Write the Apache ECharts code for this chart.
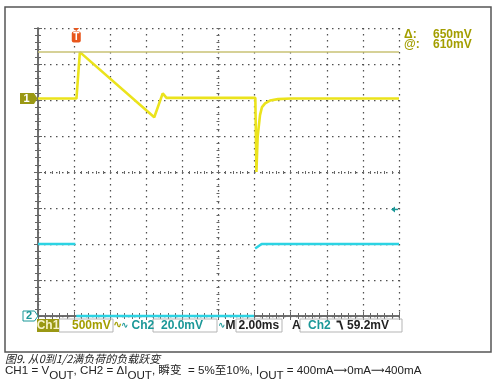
<!DOCTYPE html>
<html>
<head>
<meta charset="utf-8">
<script src="https://cdn.jsdelivr.net/npm/echarts@6/dist/echarts.min.js"></script>
<style>
html,body{margin:0;padding:0;background:#fff;}
#c{width:500px;height:389px;}
</style>
</head>
<body>
<div id="c"></div>
<script>
// ---- data ----
// time axis: 2.00 ms/div, 10 divisions
const timeMin = 0, timeMax = 20, timeDiv = 2;
// CH1 (VOUT, 500 mV/div) relative to channel ground marker
const ch1Time = [0, 2.13, 2.32, 6.44, 6.91, 7.12, 12.04, 12.1, 12.17, 12.3, 12.41, 12.58, 12.85, 13.3, 14.0, 20];
const ch1mV   = [0, 0, 645, -260, 72, 10, 10, -1020, -530, -230, -118, -67, -28, -8, 0, 0];
// CH2 (delta IOUT, 20.0 mV/div); null = undrawn fast edge (no samples on screen)
const ch2Time = [0, 2.07, 2.1, 2.12, 11.97, 12.0, 12.03, 12.1, 12.39, 20];
const ch2mV   = [40, 40, null, 0, 0, null, 37.5, 37.8, 40, 40];
const ch1Scale = 500, ch2Scale = 20, divisionsY = 8;
const ch1GroundDiv = 6.04;   // ch1 ground position, divisions from bottom
const ch2GroundDiv = 0;
const cursorDelta = 650, cursorAt = 610;
const triggerTime = 2.12, triggerLevel = 59.2;
const loadSteps = ['400mA', '0mA', '400mA'];

const olive = '#a39e00', teal = '#1b9898', frameCol = '#666';
const chart = echarts.init(document.getElementById('c'));

function gridAxis(pos, extra) {
  return Object.assign({
    type: 'value', position: pos,
    axisLine: { show: true, lineStyle: { color: frameCol, width: 1.5 } },
    axisTick: { show: true, inside: true, length: 4, lineStyle: { color: frameCol } },
    minorTick: { show: true, splitNumber: 5, length: 3, lineStyle: { color: frameCol } },
    axisLabel: { show: false },
    splitLine: { show: false },
    minorSplitLine: { show: false }
  }, extra);
}
const dotted = { show: true, lineStyle: { color: '#505050', width: 1.25, type: [1.5, 4.5] } };

const ch1Min = -ch1GroundDiv * ch1Scale;
const ch2Min = -ch2GroundDiv * ch2Scale;

const option = {
  animation: false,
  backgroundColor: '#fff',
  grid: { left: 38, top: 28, width: 361, height: 288 },
  xAxis: [
    gridAxis('bottom', { min: timeMin, max: timeMax, interval: timeDiv, splitLine: dotted }),
    gridAxis('top', { min: timeMin, max: timeMax, interval: timeDiv }),
    gridAxis('bottom', { min: timeMin, max: timeMax, interval: timeDiv, offset: -146, axisLine: { show: false } })
  ],
  yAxis: [
    gridAxis('left', { min: 0, max: divisionsY, interval: 1, splitLine: dotted }),
    gridAxis('right', { min: 0, max: divisionsY, interval: 1 }),
    gridAxis('left', { min: 0, max: divisionsY, interval: 1, offset: -178.5, axisLine: { show: false } }),
    { type: 'value', min: ch1Min, max: ch1Min + divisionsY * ch1Scale, show: false },
    { type: 'value', min: ch2Min, max: ch2Min + divisionsY * ch2Scale, show: false }
  ],
  series: [
    {
      type: 'line', xAxisIndex: 0, yAxisIndex: 4,
      data: ch2Time.map((t, i) => [t, ch2mV[i]]),
      showSymbol: false, clip: false, connectNulls: false,
      lineStyle: { color: '#2cd3e3', width: 2.5 }, z: 3
    },
    {
      type: 'line', xAxisIndex: 0, yAxisIndex: 3,
      data: ch1Time.map((t, i) => [t, ch1mV[i]]),
      showSymbol: false, clip: false,
      lineStyle: { color: '#ebe31c', width: 2.6 }, z: 4,
      markLine: {
        silent: true, symbol: ['none', 'none'], label: { show: false },
        lineStyle: { color: '#c9c274', width: 1.5, type: 'solid' },
        data: [{ yAxis: cursorDelta }]
      }
    }
  ]
};
chart.setOption(option);

// ---- decorations ----
const bold = 'bold 12px "Liberation Sans", Arial, sans-serif';
function txt(x, y, s, fill, font, align) {
  return { type: 'text', x: x, y: y, style: { text: s, fill: fill, font: font || bold, textAlign: align || 'left', textVerticalAlign: 'middle' }, z: 10 };
}
const by = 325.5;
const g = [];
g.push({ type: 'rect', shape: { x: 5, y: 7, width: 486, height: 345 }, style: { fill: 'none', stroke: '#555', lineWidth: 1.5 }, z: 1 });
[[59, 54], [153, 64], [236, 46], [300, 102]].forEach(b => g.push({ type: 'rect', shape: { x: b[0], y: 319, width: b[1], height: 13 }, style: { fill: 'none', stroke: '#b5b5b5', lineWidth: 1 }, z: 9 }));
g.push({ type: 'rect', shape: { x: 37, y: 319, width: 22, height: 13 }, style: { fill: '#9a9814' }, z: 9 });
g.push(txt(48, by, 'Ch1', '#f6f2c8', null, 'center'));
g.push(txt(72, by, (ch1Scale) + 'mV', olive));
g.push(txt(113, by, '∿', olive, 'bold 11px "DejaVu Sans", sans-serif'));
g.push(txt(121, by, '∿', teal, 'bold 9px "DejaVu Sans", sans-serif'));
g.push(txt(131.5, by, 'Ch2', teal));
g.push(txt(161, by, ch2Scale.toFixed(1) + 'mV', teal));
g.push(txt(218, by, '∿', teal, 'bold 9px "DejaVu Sans", sans-serif'));
g.push(txt(225.5, by, 'M', '#222'));
g.push(txt(238.5, by, timeDiv.toFixed(2) + 'ms', '#222'));
g.push(txt(292, by, 'A', '#222'));
g.push(txt(308, by, 'Ch2', teal));
g.push({ type: 'polyline', shape: { points: [[336.5, 321.5], [340, 321.5], [342.5, 329.5]] }, style: { stroke: '#222', lineWidth: 1.8, fill: 'none' }, z: 10 });
g.push(txt(347, by, triggerLevel.toFixed(1) + 'mV', '#222'));
g.push(txt(404, 34.5, 'Δ:', olive));
g.push(txt(433, 34.5, cursorDelta + 'mV', olive));
g.push(txt(404, 44.5, '@:', olive));
g.push(txt(433, 44.5, cursorAt + 'mV', olive));
g.push({ type: 'text', x: 5, y: 358.5, style: { text: '图9. 从0到1/2满负荷的负载跃变', fill: '#222', font: 'italic 11px "Noto Sans CJK SC", sans-serif', textVerticalAlign: 'middle' }, z: 10 });
g.push({
  type: 'text', x: 5, y: 364.5, z: 10,
  style: {
    text: '{a|CH1 = V}{s|OUT}{a|, CH2 = ΔI}{s|OUT}{a|, 瞬变  = 5%至10%, I}{s|OUT}{a| = ' + loadSteps.join('}{r|⟶}{a|') + '}',
    textVerticalAlign: 'top',
    rich: {
      a: { fontSize: 11.6, fontFamily: '"Liberation Sans", "Noto Sans CJK SC", sans-serif', fill: '#222', lineHeight: 13, verticalAlign: 'top' },
      r: { fontSize: 9.5, fontFamily: '"DejaVu Sans", sans-serif', fill: '#222', lineHeight: 13, verticalAlign: 'top', padding: [1, 0, 0, 0] },
      s: { fontSize: 11.6, fontFamily: '"Liberation Sans", sans-serif', fill: '#222', lineHeight: 13, padding: [5, 0, 0, 0], verticalAlign: 'top' }
    }
  }
});

const ch1Y = chart.convertToPixel({ yAxisIndex: 3 }, 0);
const ch2Y = chart.convertToPixel({ yAxisIndex: 4 }, 0);
const trigX = chart.convertToPixel({ xAxisIndex: 0 }, triggerTime);
const trigY = chart.convertToPixel({ yAxisIndex: 4 }, triggerLevel);
const gridTop = chart.convertToPixel({ yAxisIndex: 0 }, divisionsY);
const gridRight = chart.convertToPixel({ xAxisIndex: 0 }, timeMax);
g.push({ type: 'polygon', shape: { points: [[20, ch1Y - 5.5], [34, ch1Y - 5.5], [37.5, ch1Y], [34, ch1Y + 5.5], [20, ch1Y + 5.5]] }, style: { fill: '#9a9814' }, z: 10 });
g.push(txt(26.5, ch1Y, '1', '#fff', 'bold 11px "Liberation Sans", sans-serif', 'center'));
g.push({ type: 'polygon', shape: { points: [[23, ch2Y - 5], [34.5, ch2Y - 5], [38, ch2Y], [34.5, ch2Y + 5], [23, ch2Y + 5]] }, style: { fill: '#fff', stroke: teal, lineWidth: 1 }, z: 10 });
g.push(txt(29, ch2Y, '2', teal, 'bold 11px "Liberation Sans", sans-serif', 'center'));
g.push({ type: 'polygon', shape: { points: [[trigX - 3, gridTop], [trigX + 3, gridTop], [trigX, gridTop + 3]] }, style: { fill: '#e8561c' }, z: 10 });
g.push({ type: 'rect', shape: { x: trigX - 4.5, y: gridTop + 3.5, width: 9, height: 11, r: 2 }, style: { fill: '#e8561c' }, z: 10 });
g.push(txt(trigX, gridTop + 9.2, 'T', '#fff', 'bold 10px "Liberation Sans", sans-serif', 'center'));
g.push({ type: 'polygon', shape: { points: [[gridRight - 8, trigY], [gridRight - 4, trigY - 3], [gridRight - 4, trigY + 3]] }, style: { fill: teal }, z: 10 });
g.push({ type: 'line', shape: { x1: gridRight - 4, y1: trigY, x2: gridRight - 1, y2: trigY }, style: { stroke: teal, lineWidth: 1.5 }, z: 10 });

chart.setOption({ graphic: { elements: g } });
</script>
</body>
</html>
